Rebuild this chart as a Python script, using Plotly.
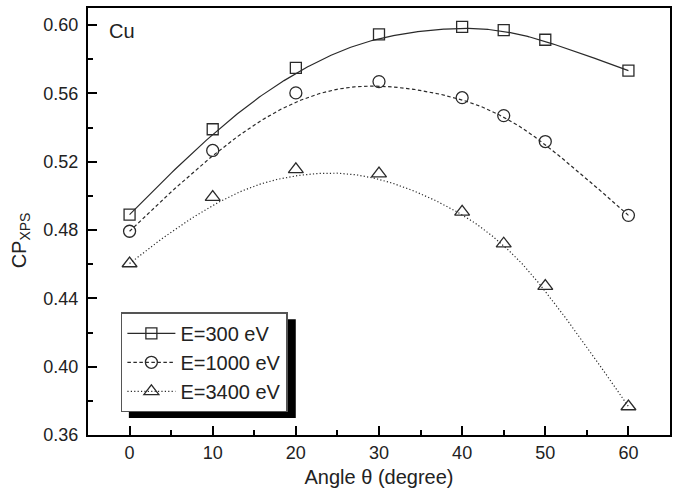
import numpy as np
import plotly.graph_objects as go

# ---- data ----
angles = [0, 10, 20, 30, 40, 45, 50, 60]
cp_300 = [0.489, 0.539, 0.575, 0.5945, 0.599, 0.597, 0.5914, 0.5733]
cp_1000 = [0.4793, 0.5266, 0.5603, 0.5669, 0.5575, 0.547, 0.5318, 0.4886]
cp_3400 = [0.4604, 0.4993, 0.5155, 0.513, 0.4906, 0.472, 0.4472, 0.3767]
series_names = ["E=300 eV", "E=1000 eV", "E=3400 eV"]
x_ticks = [0, 10, 20, 30, 40, 50, 60]
y_ticks = [0.36, 0.40, 0.44, 0.48, 0.52, 0.56, 0.60]


def bspline(xs, ys, n=300, p=3):
    """Clamped uniform B-spline using data points as control points (Origin 'B-Spline' connection)."""
    P = np.column_stack([xs, ys]).astype(float)
    m = len(P)
    knots = np.concatenate([np.zeros(p), np.linspace(0, 1, m - p + 1), np.ones(p)])
    out = []
    for t in np.linspace(0, 1, n):
        k = np.searchsorted(knots, t, side="right") - 1
        k = min(k, m - 1)
        d = [P[j + k - p].copy() for j in range(p + 1)]
        for r in range(1, p + 1):
            for j in range(p, r - 1, -1):
                den = knots[j + 1 + k - r] - knots[j + k - p]
                a = 0.0 if den == 0 else (t - knots[j + k - p]) / den
                d[j] = (1 - a) * d[j - 1] + a * d[j]
        out.append(d[p])
    out = np.array(out)
    return out[:, 0], out[:, 1]


ink = "#2a2a2a"
styles = [
    dict(dash="solid", symbol="square-open", size=11),
    dict(dash="3.5px,2.5px", symbol="circle-open", size=12),
    dict(dash="1.2px,2.2px", symbol="triangle-up-open", size=13),
]

fig = go.Figure()
for name, ys, st in zip(series_names, [cp_300, cp_1000, cp_3400], styles):
    cx, cy = bspline(angles, ys)
    # smooth B-spline connection line
    fig.add_trace(go.Scatter(
        x=cx, y=cy, mode="lines", line=dict(color=ink, width=1.2, dash=st["dash"]),
        showlegend=False, hoverinfo="skip",
    ))
    # data markers
    fig.add_trace(go.Scatter(
        x=angles, y=ys, mode="markers", name=name, showlegend=False,
        marker=dict(symbol=st["symbol"], size=st["size"], color=ink, line=dict(width=1.3, color=ink)),
    ))
    # legend entry (line + marker sample)
    fig.add_trace(go.Scatter(
        x=[None], y=[None], mode="lines+markers", name=name,
        line=dict(color=ink, width=1.2, dash=st["dash"]),
        marker=dict(symbol=st["symbol"], size=st["size"], color=ink, line=dict(width=1.3, color=ink)),
    ))

font_family = "Liberation Sans, Arial, sans-serif"

axis_common = dict(
    showline=True, linecolor="black", linewidth=2, mirror=True,
    ticks="inside", ticklen=9, tickwidth=2, tickcolor="black",
    showgrid=False, zeroline=False,
    tickfont=dict(size=18, color="#222", family=font_family),
)

fig.update_xaxes(
    range=[-5, 65], tickvals=x_ticks,
    minor=dict(dtick=5, tick0=0, ticks="inside", ticklen=5, tickwidth=1.5, tickcolor="black"),
    title=dict(text="Angle θ (degree)", font=dict(size=20, color="#222", family=font_family), standoff=8),
    **axis_common,
)
fig.update_yaxes(
    range=[0.36, 0.61], tickvals=y_ticks, tickformat=".2f",
    minor=dict(dtick=0.02, tick0=0.36, ticks="inside", ticklen=5, tickwidth=1.5, tickcolor="black"),
    ticklabelstandoff=4,
    **axis_common,
)

# legend shadow
fig.add_shape(type="rect", xref="paper", yref="paper",
              x0=0.0702, x1=0.357, y0=0.040, y1=0.271,
              fillcolor="black", line=dict(width=0), layer="above")

fig.update_layout(
    width=678, height=502,
    margin=dict(l=88, r=6, t=7, b=67),
    paper_bgcolor="white", plot_bgcolor="white",
    font=dict(family=font_family, color="#222"),
    showlegend=True,
    legend=dict(
        x=0.0565, y=0.2874, xanchor="left", yanchor="top",
        bgcolor="white", bordercolor="#555", borderwidth=1.5,
        font=dict(size=20, family=font_family, color="#222"),
        itemwidth=48, tracegroupgap=0,
    ),
    annotations=[
        dict(text="Cu", xref="paper", yref="paper", x=0.0325, y=0.946,
             xanchor="left", yanchor="middle", showarrow=False,
             font=dict(size=20, family=font_family, color="#222")),
        dict(text="CP<sub>XPS</sub>", xref="paper", yref="paper", x=-0.116, y=0.457,
             xanchor="center", yanchor="middle", textangle=-90, showarrow=False,
             font=dict(size=20, family=font_family, color="#222")),
    ],
)

fig.write_html("out.html", config={"displayModeBar": False},
               post_script="document.body.style.margin='0px';")
